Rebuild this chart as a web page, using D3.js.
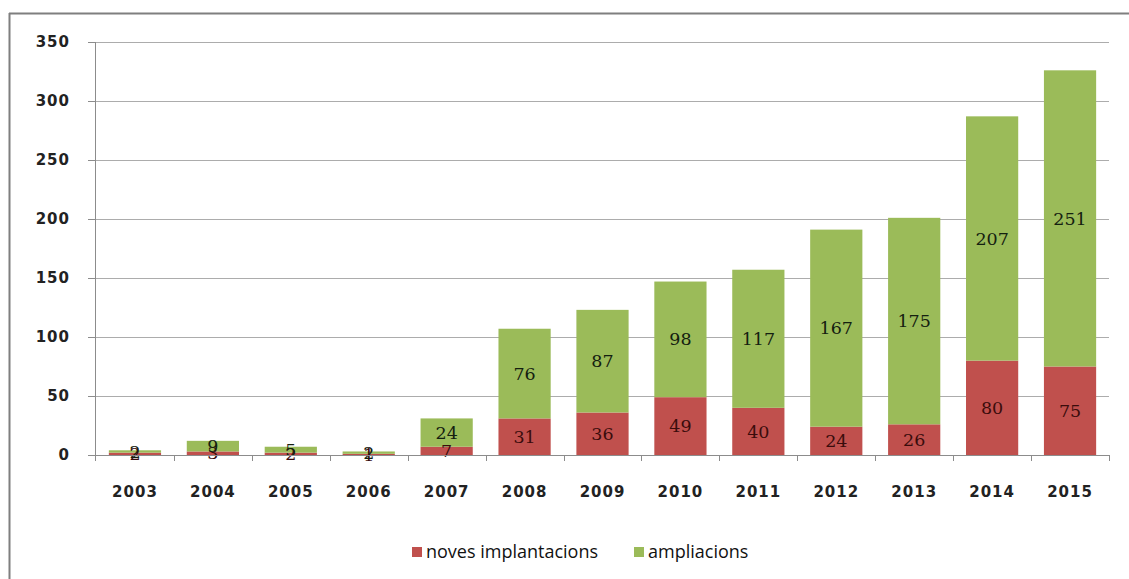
<!DOCTYPE html>
<html>
<head>
<meta charset="utf-8">
<script src="https://cdn.jsdelivr.net/npm/d3@7"></script>
<style>
  body { margin: 0; background: #fff; }
  svg { display: block; }
</style>
</head>
<body>
<div id="plot"></div>
<script>
// chart data
const years = ["2003", "2004", "2005", "2006", "2007", "2008", "2009", "2010", "2011", "2012", "2013", "2014", "2015"];
const noves = [2, 3, 2, 1, 7, 31, 36, 49, 40, 24, 26, 80, 75];
const ampliacions = [2, 9, 5, 2, 24, 76, 87, 98, 117, 167, 175, 207, 251];
const yTicks = [0, 50, 100, 150, 200, 250, 300, 350];
const seriesNames = ["noves implantacions", "ampliacions"];
const seriesColors = ["#c0504d", "#9bbb59"];
const labelColors = ["#3a0c0c", "#142010"];

const w = 1129;
const h = 579;
const margin = {top: 42, right: 20, bottom: 124, left: 96};
const innerWidth = w - margin.left - margin.right;
const innerHeight = h - margin.top - margin.bottom;

const svg = d3.select("#plot")
  .append("svg")
    .attr("width", w)
    .attr("height", h);

// window frame (top and left edges)
svg.append("line")
    .attr("x1", 9).attr("x2", w).attr("y1", 13.5).attr("y2", 13.5)
    .attr("stroke", "#7f7f7f").attr("stroke-width", 2);
svg.append("line")
    .attr("x1", 9.5).attr("x2", 9.5).attr("y1", 13).attr("y2", h)
    .attr("stroke", "#7f7f7f").attr("stroke-width", 2);

const rows = years.map((y, i) => ({year: y, noves: noves[i], ampliacions: ampliacions[i]}));
const stacked = d3.stack().keys(["noves", "ampliacions"])(rows);

const xScale = d3.scaleBand()
    .domain(years)
    .range([0, innerWidth])
    .paddingInner(0.33)
    .paddingOuter(0.165);

const yScale = d3.scaleLinear()
    .domain([0, 350])
    .range([innerHeight, 0]);

const g = svg.append("g")
    .attr("transform", `translate(${margin.left}, ${margin.top})`);

// gridlines
g.append("g")
    .selectAll("line")
    .data(yTicks.filter(d => d > 0))
    .join("line")
    .attr("x1", -8)
    .attr("x2", innerWidth)
    .attr("y1", d => Math.round(yScale(d)) + 0.5)
    .attr("y2", d => Math.round(yScale(d)) + 0.5)
    .attr("stroke", "#acacac");

// bars
g.append("g")
  .selectAll("g")
  .data(stacked)
  .join("g")
    .attr("fill", (d, i) => seriesColors[i])
  .selectAll("rect")
  .data(d => d)
  .join("rect")
    .attr("x", d => xScale(d.data.year))
    .attr("y", d => yScale(d[1]))
    .attr("width", xScale.bandwidth())
    .attr("height", d => yScale(d[0]) - yScale(d[1]));

// data labels
stacked.forEach((s, i) => {
  g.append("g")
    .selectAll("text")
    .data(s)
    .join("text")
      .attr("x", d => xScale(d.data.year) + xScale.bandwidth() / 2)
      .attr("y", d => yScale((d[0] + d[1]) / 2))
      .attr("dy", "0.35em")
      .attr("text-anchor", "middle")
      .attr("font-family", "DejaVu Serif, serif")
      .attr("font-size", 17.5)
      .attr("fill", labelColors[i])
      .text(d => d[1] - d[0]);
});

// y axis
const yAxis = d3.axisLeft(yScale)
    .tickValues(yTicks)
    .tickSize(8)
    .tickPadding(18);

g.append("g")
    .attr("class", "yAxis")
    .call(yAxis)
    .call(a => a.select(".domain").attr("stroke", "#8c8c8c").attr("d", `M-0.5,${innerHeight + 6}V0`))
    .call(a => a.selectAll(".tick line").attr("stroke", "#8c8c8c"))
    .call(a => a.selectAll("text")
        .attr("font-family", "DejaVu Sans, sans-serif")
        .attr("font-weight", "bold")
        .attr("font-size", 15)
        .attr("letter-spacing", 1)
        .attr("fill", "#222"));

// x axis
const xAxis = d3.axisBottom(xScale)
    .tickSize(0)
    .tickPadding(31);

const xg = g.append("g")
    .attr("class", "xAxis")
    .attr("transform", `translate(0, ${innerHeight})`)
    .call(xAxis)
    .call(a => a.select(".domain").attr("stroke", "#8c8c8c").attr("d", `M-8,0.5H${innerWidth}`))
    .call(a => a.selectAll("text")
        .attr("font-family", "DejaVu Sans, sans-serif")
        .attr("font-weight", "bold")
        .attr("font-size", 15)
        .attr("letter-spacing", 1)
        .attr("fill", "#222"));

// tick marks at category boundaries
xg.append("g")
    .selectAll("line")
    .data(years)
    .join("line")
    .attr("x1", d => Math.round(xScale(d) - xScale.step() * xScale.paddingInner() / 2 + xScale.step()) + 0.5)
    .attr("x2", d => Math.round(xScale(d) - xScale.step() * xScale.paddingInner() / 2 + xScale.step()) + 0.5)
    .attr("y1", 0)
    .attr("y2", 6)
    .attr("stroke", "#8c8c8c");

// legend
const legend = svg.append("g")
    .attr("transform", "translate(412, 552)");

const legendX = [0, 222];
seriesNames.forEach((name, i) => {
  const item = legend.append("g").attr("transform", `translate(${legendX[i]}, 0)`);
  item.append("rect")
      .attr("x", 0).attr("y", -5)
      .attr("width", 10).attr("height", 10)
      .attr("fill", seriesColors[i]);
  item.append("text")
      .attr("x", 14)
      .attr("y", 0)
      .attr("dy", "0.35em")
      .attr("font-family", "Open Sans, sans-serif")
      .attr("font-size", 18)
      .attr("fill", "#111")
      .text(name);
});
</script>
</body>
</html>
